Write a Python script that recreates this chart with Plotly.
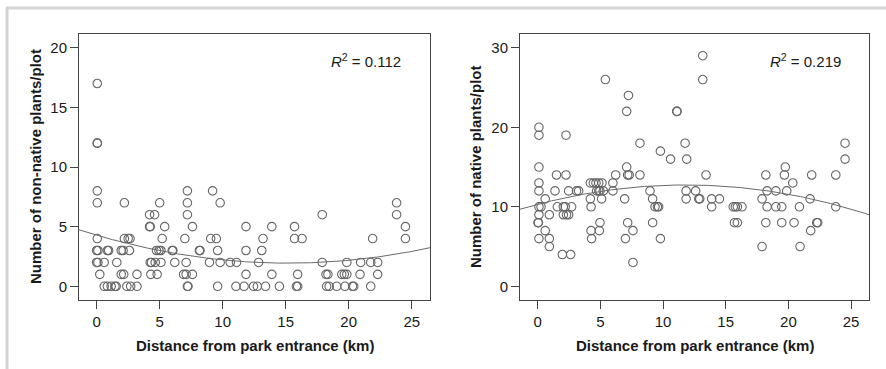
import numpy as np
import plotly.graph_objects as go

# ---- Data ----
# Left panel: non-native plants per plot vs distance from park entrance (km)
nonnative_dist = [
    0.05,
    0.05, 0.05,
    0.05, 7.2, 9.2,
    0.05, 2.2, 5.0, 7.2, 9.8, 23.8,
    4.2, 4.6, 7.2, 17.9, 23.8,
    4.2, 4.25, 5.4, 7.6, 11.85, 13.9, 15.7, 24.5,
    0.05, 2.2, 2.5, 2.65, 5.2, 7.0, 9.05, 9.5, 13.2, 15.7, 16.3, 21.9, 24.5,
    0.0, 0.1, 0.85, 0.95, 1.95, 2.1, 2.6, 4.75, 4.95, 5.1, 6.0, 6.05, 8.15, 8.2, 9.6, 11.85, 13.1,
    0.0, 0.1, 0.6, 1.6, 4.25, 4.35, 4.65, 5.1, 6.2, 7.1, 8.95, 9.8, 10.6, 11.1, 12.85, 17.9, 19.85, 20.95, 21.75, 22.3,
    0.25, 1.95, 2.15, 3.2, 4.3, 4.8, 6.9, 7.1, 7.6, 11.85, 13.9, 15.95, 18.2, 18.35, 19.45, 19.65, 19.85, 20.9, 22.3,
    0.6, 0.85, 1.15, 1.45, 1.55, 2.4, 2.7, 3.2, 7.2, 7.25, 9.6, 11.05, 11.7, 12.45, 12.75, 13.4, 14.5, 15.85, 15.95, 18.25, 18.45, 19.05, 19.7, 20.3, 20.4, 21.75,
]
nonnative_count = [
    17,
    12, 12,
    8, 8, 8,
    7, 7, 7, 7, 7, 7,
    6, 6, 6, 6, 6,
    5, 5, 5, 5, 5, 5, 5, 5,
    4, 4, 4, 4, 4, 4, 4, 4, 4, 4, 4, 4, 4,
    3, 3, 3, 3, 3, 3, 3, 3, 3, 3, 3, 3, 3, 3, 3, 3, 3,
    2, 2, 2, 2, 2, 2, 2, 2, 2, 2, 2, 2, 2, 2, 2, 2, 2, 2, 2, 2,
    1, 1, 1, 1, 1, 1, 1, 1, 1, 1, 1, 1, 1, 1, 1, 1, 1, 1, 1,
    0, 0, 0, 0, 0, 0, 0, 0, 0, 0, 0, 0, 0, 0, 0, 0, 0, 0, 0, 0, 0, 0, 0, 0, 0, 0,
]

# Right panel: native plants per plot vs distance from park entrance (km)
native_dist = [
    13.17,
    5.4, 13.17,
    7.24,
    7.1, 11.09, 11.12,
    0.1,
    0.1, 2.26,
    8.16, 11.76, 24.52,
    9.79,
    10.6, 11.89, 24.52,
    0.1, 7.1, 19.75,
    1.5, 2.26, 6.22, 7.18, 7.3, 8.16, 13.43, 18.2, 19.68, 21.86, 23.78,
    0.1, 4.2, 4.44, 4.65, 4.87, 5.13, 6.0, 20.35,
    0.1, 1.38, 2.47, 3.1, 3.27, 4.7, 4.87, 4.97, 5.24, 6.0, 8.96, 11.84, 12.6, 18.3, 19.0, 19.87,
    0.6, 4.2, 5.1, 6.94, 9.17, 11.84, 12.85, 12.93, 13.88, 14.5, 17.9, 21.73,
    0.1, 0.27, 1.57, 2.05, 2.2, 2.71, 4.26, 9.36, 9.55, 9.65, 13.88, 15.6, 15.77, 15.93, 16.3, 18.3, 19.0, 19.47, 20.88, 23.78,
    0.1, 0.93, 2.05, 2.3, 2.47,
    0.03, 0.06, 4.97, 7.18, 9.17, 15.7, 15.93, 18.2, 19.47, 20.45, 22.26, 22.34,
    0.6, 4.26, 4.92, 7.6, 21.78,
    0.1, 0.93, 4.3, 7.0, 9.79,
    0.93, 17.9, 20.93,
    1.97, 2.63,
    7.6,
]
native_count = [
    29,
    26, 26,
    24,
    22, 22, 22,
    20,
    19, 19,
    18, 18, 18,
    17,
    16, 16, 16,
    15, 15, 15,
    14, 14, 14, 14, 14, 14, 14, 14, 14, 14, 14,
    13, 13, 13, 13, 13, 13, 13, 13,
    12, 12, 12, 12, 12, 12, 12, 12, 12, 12, 12, 12, 12, 12, 12, 12,
    11, 11, 11, 11, 11, 11, 11, 11, 11, 11, 11, 11,
    10, 10, 10, 10, 10, 10, 10, 10, 10, 10, 10, 10, 10, 10, 10, 10, 10, 10, 10, 10,
    9, 9, 9, 9, 9,
    8, 8, 8, 8, 8, 8, 8, 8, 8, 8, 8, 8,
    7, 7, 7, 7, 7,
    6, 6, 6, 6, 6,
    5, 5, 5,
    4, 4,
    3,
]

r2_labels = ["0.112", "0.219"]
x_ticks = [0, 5, 10, 15, 20, 25]
y_ticks_left = [0, 5, 10, 15, 20]
y_ticks_right = [0, 10, 20, 30]

# ---- Styling ----
W, H = 886, 369
PT_COLOR = "#666666"
AX_COLOR = "#444444"
TXT = "#1a1a1a"
FONT = "Liberation Sans, Arial, sans-serif"

xr_left = [-1.4, 26.45]
yr_left = [-1.15, 21.15]
xr_right = [-1.41, 26.43]
yr_right = [-1.72, 31.73]

# plot boxes in pixels
L1, R1 = 79, 430
L2, R2 = 520, 869
TOP, BOT = 34, 300

fig = go.Figure()

def add_panel(xs, ys, xa, ya, xr):
    fig.add_trace(go.Scatter(
        x=xs, y=ys, mode="markers", xaxis=xa, yaxis=ya,
        marker=dict(symbol="circle-open", size=8.5, color=PT_COLOR,
                    line=dict(width=1.1, color=PT_COLOR)),
        showlegend=False, hoverinfo="x+y"))
    coef = np.polyfit(np.array(xs, float), np.array(ys, float), 2)
    gx = np.linspace(xr[0], xr[1], 200)
    fig.add_trace(go.Scatter(
        x=gx, y=np.polyval(coef, gx), mode="lines", xaxis=xa, yaxis=ya,
        line=dict(color="#6a6a6a", width=1), showlegend=False, hoverinfo="skip"))

add_panel(nonnative_dist, nonnative_count, "x", "y", xr_left)
add_panel(native_dist, native_count, "x2", "y2", xr_right)

common_axis = dict(
    showline=True, linecolor=AX_COLOR, linewidth=1, mirror=True,
    ticks="outside", ticklen=8, tickwidth=1, tickcolor=AX_COLOR,
    showgrid=False, zeroline=False, automargin=False,
    tickfont=dict(family=FONT, size=15, color=TXT),
)

ydom = [(H - BOT) / H, (H - TOP) / H]

fig.update_layout(
    width=W, height=H,
    margin=dict(l=0, r=0, t=0, b=0),
    paper_bgcolor="white", plot_bgcolor="white",
    template="none",
    xaxis=dict(domain=[L1 / W, R1 / W], range=xr_left, tickvals=x_ticks, anchor="y", **common_axis),
    yaxis=dict(domain=ydom, range=yr_left, tickvals=y_ticks_left, anchor="x", **common_axis),
    xaxis2=dict(domain=[L2 / W, R2 / W], range=xr_right, tickvals=x_ticks, anchor="y2", **common_axis),
    yaxis2=dict(domain=ydom, range=yr_right, tickvals=y_ticks_right, anchor="x2", **common_axis),
)

title_font = dict(family=FONT, size=15, color=TXT)
ann = []
# x-axis titles
ann.append(dict(x=(L1 + R1) / 2 / W, y=1 - 345 / H, xref="paper", yref="paper",
                text="<b>Distance from park entrance (km)</b>", showarrow=False,
                font=title_font, xanchor="center", yanchor="middle"))
ann.append(dict(x=(L2 + R2) / 2 / W, y=1 - 345 / H, xref="paper", yref="paper",
                text="<b>Distance from park entrance (km)</b>", showarrow=False,
                font=title_font, xanchor="center", yanchor="middle"))
# y-axis titles
ann.append(dict(x=35 / W, y=1 - 167 / H, xref="paper", yref="paper",
                text="<b>Number of non-native plants/plot</b>", showarrow=False,
                font=title_font, textangle=-90, xanchor="center", yanchor="middle"))
ann.append(dict(x=475 / W, y=1 - 167 / H, xref="paper", yref="paper",
                text="<b>Number of native plants/plot</b>", showarrow=False,
                font=title_font, textangle=-90, xanchor="center", yanchor="middle"))
# R^2 labels
ann.append(dict(x=365.5 / W, y=1 - 60 / H, xref="paper", yref="paper",
                text="<i>R</i><sup>2</sup> = " + r2_labels[0], showarrow=False,
                font=dict(family=FONT, size=15, color=TXT), xanchor="center", yanchor="middle"))
ann.append(dict(x=805 / W, y=1 - 60 / H, xref="paper", yref="paper",
                text="<i>R</i><sup>2</sup> = " + r2_labels[1], showarrow=False,
                font=dict(family=FONT, size=15, color=TXT), xanchor="center", yanchor="middle"))
fig.update_layout(annotations=ann)

# light grey frame (top and left edges) of the figure box
fig.add_shape(type="line", xref="paper", yref="paper",
              x0=6 / W, x1=1, y0=1 - 8 / H, y1=1 - 8 / H,
              line=dict(color="#d4d4d4", width=3))
fig.add_shape(type="line", xref="paper", yref="paper",
              x0=7 / W, x1=7 / W, y0=0, y1=1 - 8 / H,
              line=dict(color="#d4d4d4", width=3))

fig.write_html(
    "out.html",
    config={"displayModeBar": False},
    post_script="document.body.style.margin='0';document.body.style.overflow='hidden';",
)
